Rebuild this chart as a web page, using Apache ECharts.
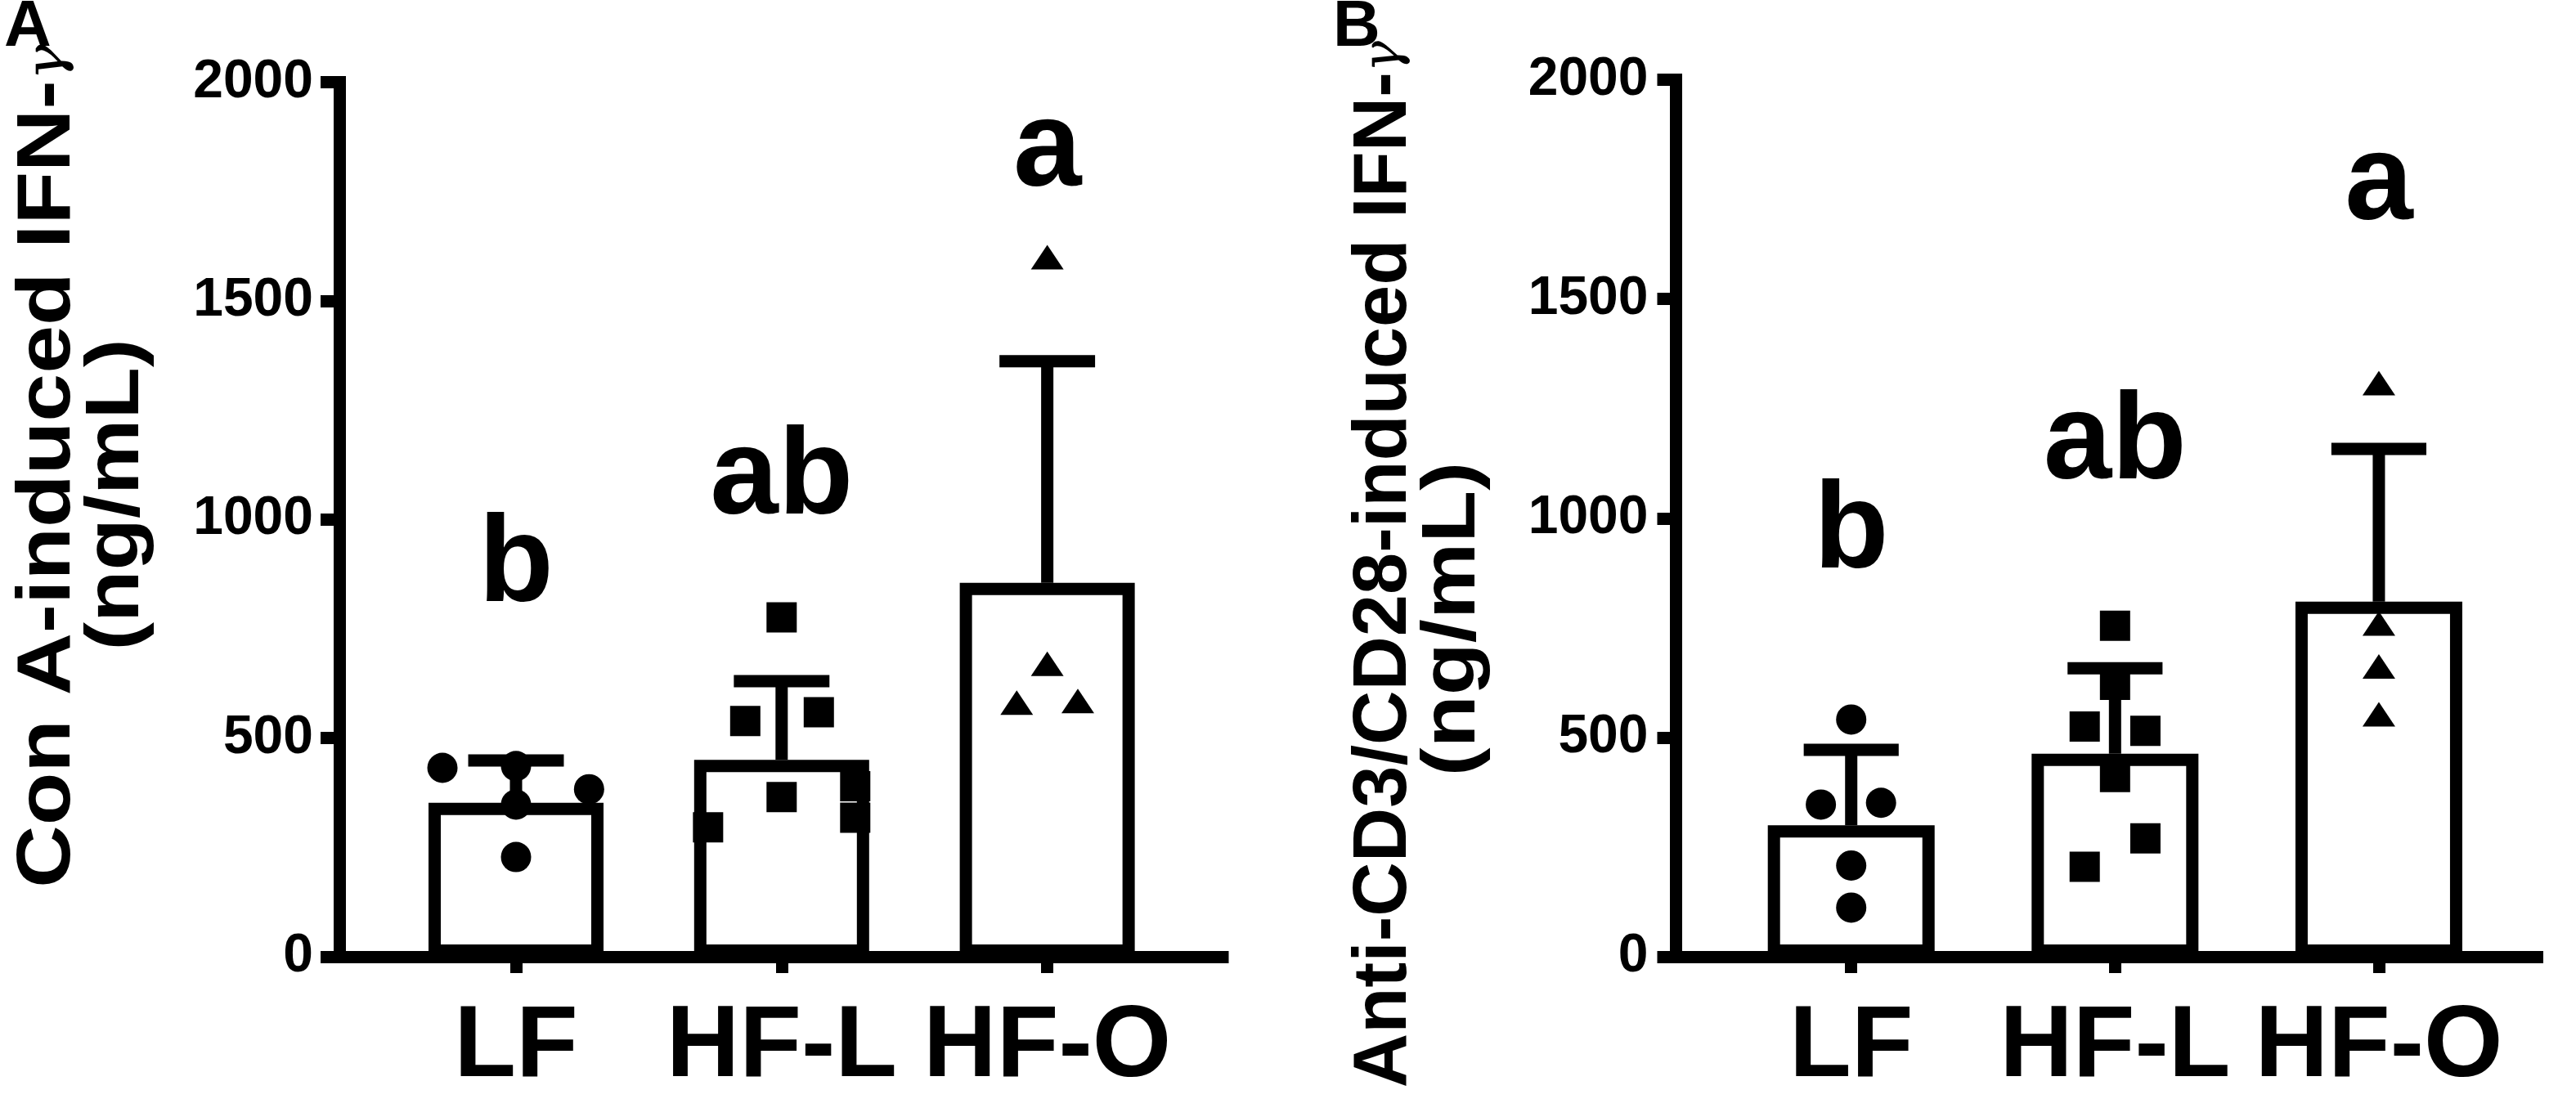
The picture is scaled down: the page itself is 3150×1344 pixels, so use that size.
<!DOCTYPE html>
<html><head><meta charset="utf-8">
<script src="https://cdn.jsdelivr.net/npm/echarts@6/dist/echarts.min.js"></script>
<style>html,body{margin:0;padding:0;background:#fff}#c{width:3150px;height:1344px}</style>
</head><body><div id="c"></div>
<script>
// ---------- data ----------
const categories = ['LF', 'HF-L', 'HF-O'];
const yTickValues = [0, 500, 1000, 1500, 2000];

// Panel A: Con A-induced IFN-gamma
const meanA = [352, 450, 855];
const sdA = [97, 180, 507];
const ptsA_LF = [432, 436, 383, 348, 228];
const ptsA_HFL = [776, 539, 559, 365, 390, 318, 296];
const ptsA_HFO = [1600, 670, 581, 585];
const jitA_LF = [-0.277, 0, 0.275, 0, 0];
const jitA_HFL = [0, -0.137, 0.14, 0, 0.277, 0.277, -0.277];
const jitA_HFO = [0, 0, -0.115, 0.115];
const lettersA = ['b', 'ab', 'a'];
const letterYA = [795, 995, 1745];

// Panel B: Anti-CD3/CD28-induced IFN-gamma
const meanB = [300, 463, 810];
const sdB = [172, 195, 348];
const ptsB_LF = [541, 347, 351, 208, 112];
const ptsB_HFL = [755, 620, 515, 525, 410, 270, 205];
const ptsB_HFO = [1308, 760, 662, 553];
const jitB_LF = [0, -0.115, 0.113, 0, 0];
const jitB_HFL = [0, 0, 0.115, -0.115, 0, 0.115, -0.115];
const jitB_HFO = [0, 0, 0, 0];
const lettersB = ['b', 'ab', 'a'];
const letterYB = [870, 1072, 1665];

// ---------- rendering ----------
const FF = '"Liberation Sans", Arial, sans-serif';
const LW = 15;
const chart = echarts.init(document.getElementById('c'), null, {renderer: 'canvas'});

function panelSeries(i, mean, sd, ptsList, jitList, letters, letterY, barW) {
  const syms = [
    {symbol: 'circle', size: 37},
    {symbol: 'rect', size: 37},
    {symbol: 'triangle', size: [40, 30]}
  ];
  const s = [];
  s.push({
    type: 'bar', xAxisIndex: i, yAxisIndex: i, silent: true, z: 2,
    barWidth: barW,
    data: mean.map((v, k) => [k + 1, v]),
    itemStyle: {color: '#fff', borderColor: '#000', borderWidth: LW, opacity: 1}
  });
  s.push({
    type: 'custom', xAxisIndex: i, yAxisIndex: i, silent: true, z: 3,
    data: mean.map((v, k) => [k + 1, v, sd[k]]),
    encode: {x: 0, y: 1},
    renderItem: function (params, api) {
      const x = api.value(0), m = api.value(1), d = api.value(2);
      const p0 = api.coord([x, m]);
      const p1 = api.coord([x, m + d]);
      const half = api.size([0.36, 0])[0] / 2;
      return {type: 'group', children: [
        {type: 'line', shape: {x1: p0[0], y1: p0[1], x2: p1[0], y2: p1[1]}, style: {stroke: '#000', lineWidth: LW}},
        {type: 'line', shape: {x1: p1[0] - half, y1: p1[1], x2: p1[0] + half, y2: p1[1]}, style: {stroke: '#000', lineWidth: LW}}
      ]};
    }
  });
  ptsList.forEach((pts, k) => {
    s.push({
      type: 'scatter', xAxisIndex: i, yAxisIndex: i, silent: true, z: 4,
      symbol: syms[k].symbol, symbolSize: syms[k].size,
      itemStyle: {color: '#000', opacity: 1},
      data: pts.map((v, j) => [k + 1 + jitList[k][j], v])
    });
  });
  s.push({
    type: 'scatter', xAxisIndex: i, yAxisIndex: i, silent: true, z: 5,
    symbolSize: 0,
    itemStyle: {color: '#000', opacity: 1},
    data: letterY.map((v, k) => [k + 1, v]),
    label: {
      show: true, position: 'top', distance: 0, offset: [0, 24], opacity: 1,
      formatter: p => letters[p.dataIndex],
      fontSize: 150, fontWeight: 'bold', fontFamily: FF, color: '#000'
    }
  });
  return s;
}

function xAxisCfg(i, min, max) {
  return {
    gridIndex: i, type: 'value', min: min, max: max,
    axisLine: {show: true, lineStyle: {color: '#000', width: LW, cap: 'square'}},
    axisTick: {show: true, customValues: [1, 2, 3], length: 20, lineStyle: {color: '#000', width: LW}},
    axisLabel: {
      show: true, customValues: [1, 2, 3], formatter: v => categories[Math.round(v) - 1],
      fontSize: 124, fontWeight: 'bold', fontFamily: FF, color: '#000', margin: 50
    },
    splitLine: {show: false}
  };
}
function yAxisCfg(i, margin) {
  return {
    gridIndex: i, type: 'value', min: yTickValues[0], max: yTickValues[yTickValues.length - 1], interval: 500,
    axisLine: {show: true, lineStyle: {color: '#000', width: LW, cap: 'square'}},
    axisTick: {show: true, length: 23, lineStyle: {color: '#000', width: LW}},
    axisLabel: {show: true, formatter: v => String(v), fontSize: 66, fontWeight: 'bold', fontFamily: FF, color: '#000', margin: margin},
    splitLine: {show: false}
  };
}

function vText(x, y, text, size, sx) {
  return {
    type: 'text', x: x, y: y, rotation: Math.PI / 2, scaleX: sx, silent: true,
    style: {
      text: text, x: 0, y: 0, fill: '#000',
      fontSize: size, fontWeight: 'bold', fontFamily: FF,
      align: 'center', verticalAlign: 'middle', textAlign: 'center', textVerticalAlign: 'middle',
      rich: {g: {fontSize: Math.round(size * 0.7), fontWeight: 'normal', fontFamily: '"DejaVu Serif", serif', fontStyle: 'italic', fill: '#000', color: '#000'}}
    }
  };
}

const option = {
  animation: false,
  backgroundColor: '#fff',
  grid: [
    {left: 415, top: 100.5, width: 1080, height: 1084},
    {left: 2049.5, top: 97.5, width: 1053, height: 1087}
  ],
  xAxis: [xAxisCfg(0, 0.335, 3.66), xAxisCfg(1, 0.336, 3.60)],
  yAxis: [yAxisCfg(0, 32), yAxisCfg(1, 34)],
  series: [].concat(
    panelSeries(0, meanA, sdA, [ptsA_LF, ptsA_HFL, ptsA_HFO], [jitA_LF, jitA_HFL, jitA_HFO], lettersA, letterYA, 214),
    panelSeries(1, meanB, sdB, [ptsB_LF, ptsB_HFL, ptsB_HFO], [jitB_LF, jitB_HFL, jitB_HFO], lettersB, letterYB, 204)
  ),
  graphic: [
    {type: 'text', x: 5, y: 34, silent: true, style: {text: 'A', fontSize: 80, fontWeight: 'bold', fontFamily: FF, fill: '#000', align: 'left', verticalAlign: 'middle'}},
    {type: 'text', x: 1630, y: 34, silent: true, style: {text: 'B', fontSize: 80, fontWeight: 'bold', fontFamily: FF, fill: '#000', align: 'left', verticalAlign: 'middle'}},
    vText(60, 570, 'Con A-induced IFN-{g|γ}', 92, 1.15),
    vText(144, 605, '(ng/mL)', 92, 1.13),
    vText(1694, 690, 'Anti-CD3/CD28-induced IFN-{g|γ}', 92, 1.0),
    vText(1778, 757, '(ng/mL)', 92, 1.14)
  ]
};
chart.setOption(option);
</script>
</body></html>
